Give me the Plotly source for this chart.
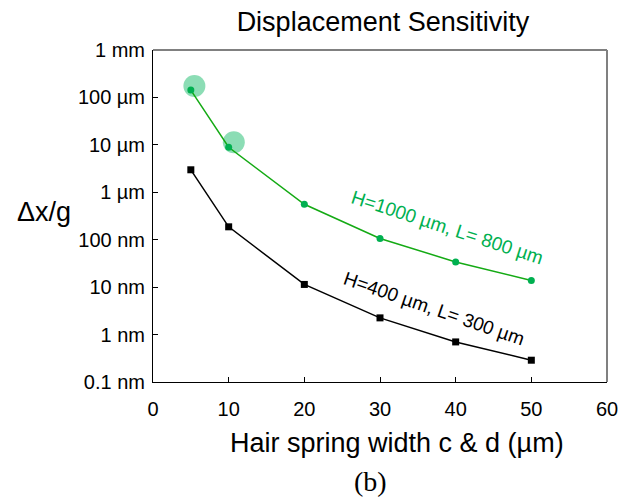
import math
import plotly.graph_objects as go

# Data (displacement per g, in metres)
width_um = [5, 10, 20, 30, 40, 50]
green_vals = [1.43e-4, 8.9e-6, 5.6e-7, 1.06e-7, 3.4e-8, 1.38e-8]   # H=1000 µm, L=800 µm
black_vals = [2.98e-6, 1.87e-7, 1.14e-8, 2.25e-9, 7.0e-10, 2.88e-10]  # H=400 µm, L=300 µm
highlight_x = [5.47, 10.68]
highlight_y = [1.74e-4, 1.13e-5]

ytick_vals = [1e-3, 1e-4, 1e-5, 1e-6, 1e-7, 1e-8, 1e-9, 1e-10]
ytick_text = ["1 mm", "100 µm", "10 µm", "1 µm", "100 nm", "10 nm", "1 nm", "0.1 nm"]
xtick_vals = [0, 10, 20, 30, 40, 50, 60]

GREEN_LINE = "rgb(20,170,20)"
GREEN_MARK = "rgb(0,176,80)"
GREEN_HL = "rgba(0,180,90,0.45)"

fig = go.Figure()
fig.add_trace(go.Scatter(x=highlight_x, y=highlight_y, mode="markers",
                         marker=dict(size=22, color=GREEN_HL, line=dict(width=0)),
                         showlegend=False, hoverinfo="skip"))
fig.add_trace(go.Scatter(x=width_um, y=green_vals, mode="lines+markers",
                         line=dict(color=GREEN_LINE, width=1.5),
                         marker=dict(symbol="circle", size=7, color=GREEN_MARK),
                         showlegend=False))
fig.add_trace(go.Scatter(x=width_um, y=black_vals, mode="lines+markers",
                         line=dict(color="black", width=1.5),
                         marker=dict(symbol="square", size=7, color="black"),
                         showlegend=False))

font = "Liberation Sans"
serif = "Liberation Serif"
fig.update_layout(
    width=630, height=498,
    margin=dict(l=153, r=16, t=50, b=116),
    paper_bgcolor="white", plot_bgcolor="white",
    font=dict(family=font, color="black", size=20),
    title=dict(text="Displacement Sensitivity", xref="paper", x=0.5065, xanchor="center",
               yref="container", y=1 - 22 / 498, yanchor="middle",
               font=dict(size=27, family=font)),
    xaxis=dict(range=[0, 60], tickvals=xtick_vals, ticks="inside", ticklen=5,
               tickcolor="black", showgrid=False, zeroline=False,
               showline=True, linecolor="black", linewidth=1,
               tickfont=dict(size=20, family=font), ticklabelstandoff=9),
    yaxis=dict(type="log", range=[-10, -3], tickvals=ytick_vals, ticktext=ytick_text,
               ticks="inside", ticklen=5, tickcolor="black", showgrid=False,
               zeroline=False, showline=True, linecolor="black", linewidth=1,
               tickfont=dict(size=20, family=font), ticklabelstandoff=3),
    shapes=[
        dict(type="line", xref="paper", yref="paper", x0=0, x1=1, y0=1, y1=1,
             line=dict(color="rgb(128,128,128)", width=2)),
        dict(type="line", xref="paper", yref="paper", x0=1, x1=1, y0=0, y1=1,
             line=dict(color="rgb(128,128,128)", width=2)),
    ],
    annotations=[
        dict(text="Δx/g", xref="paper", yref="paper", x=-0.241, y=0.512,
             showarrow=False, font=dict(size=27, family=font),
             xanchor="center", yanchor="middle"),
        dict(text="Hair spring width c & d (µm)", xref="paper", yref="paper",
             x=0.538, y=-0.184, showarrow=False, font=dict(size=27, family=font),
             xanchor="center", yanchor="middle"),
        dict(text="(b)", xref="paper", yref="paper", x=0.479, y=-0.301,
             showarrow=False, font=dict(size=28, family=serif),
             xanchor="center", yanchor="middle"),
        dict(text="H=1000 µm, L= 800 µm", x=38.9, y=math.log10(1.77e-7), textangle=18,
             showarrow=False, font=dict(size=19, color=GREEN_MARK, family=font)),
        dict(text="H=400 µm, L= 300 µm", x=37.1, y=math.log10(3.47e-9), textangle=19,
             showarrow=False, font=dict(size=19, color="black", family=font)),
    ],
)

fig.write_html("out.html")
